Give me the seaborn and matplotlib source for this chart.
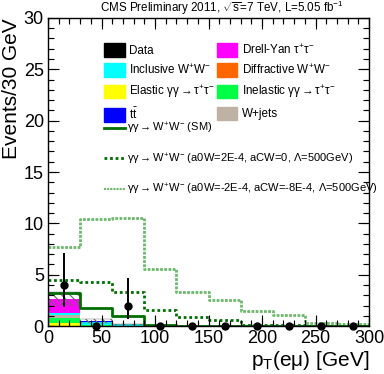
import numpy as np
import pandas as pd
import matplotlib
matplotlib.use("Agg")
import matplotlib.pyplot as plt
import seaborn as sns
from matplotlib.patches import Patch
from matplotlib.lines import Line2D
from matplotlib.ticker import MultipleLocator

# ROOT-like look, set by hand
plt.rcParams.update({
    'font.family': ['Liberation Sans', 'DejaVu Sans'],
    'mathtext.fontset': 'custom',
    'mathtext.rm': 'Liberation Sans',
    'mathtext.it': 'Liberation Sans:italic',
    'xtick.direction': 'in',
    'ytick.direction': 'in',
    'xtick.top': True,
    'ytick.right': True,
    'xtick.major.size': 8,
    'ytick.major.size': 8,
    'xtick.minor.size': 4,
    'ytick.minor.size': 4,
    'xtick.major.width': 0.8,
    'ytick.major.width': 0.8,
    'xtick.minor.width': 0.8,
    'ytick.minor.width': 0.8,
    'hatch.color': '#555555',
    'hatch.linewidth': 0.8,
})

# --------------------------
# Data (30 GeV bins, 0-300 GeV)
# --------------------------
edges = list(range(0, 301, 30))
centers = np.array(edges[:-1]) + 15

# stacked backgrounds, top of stack first (seaborn stacks the last level at bottom)
procs = ["Drell-Yan", "ttbar", "Inclusive WW", "Diffractive WW", "W+jets",
         "Inelastic tautau", "Elastic tautau"]
proc_colors = ["#ff00ff", "#0000ff", "#00ffff", "#ff6600", "#bfb2a5",
               "#00ff44", "#ffff00"]
dy = [1.40, 0.02, 0.01, 0, 0, 0, 0, 0, 0, 0]
ttbar = [0.03, 0.02, 0.01, 0, 0, 0, 0, 0, 0, 0]
incl_ww = [0.15, 0.33, 0.12, 0.04, 0.02, 0.01, 0.01, 0, 0, 0]
diff_ww = [0.05, 0.01, 0, 0, 0, 0, 0, 0, 0, 0]
wjets = [0.30, 0.03, 0.01, 0, 0, 0, 0, 0, 0, 0]
inel_tt = [0.45, 0.05, 0.02, 0.01, 0, 0, 0, 0, 0, 0]
el_tt = [0.30, 0.03, 0.01, 0, 0, 0, 0, 0, 0, 0]
bkg_err = [0.60, 0.17, 0.05, 0.02, 0.01, 0.01, 0, 0, 0, 0]

# signal curves (drawn on top of backgrounds)
sig_sm = [3.25, 1.80, 1.00, 0.07, 0.05, 0.03, 0.02, 0.01, 0.01, 0.01]
sig_aqgc1 = [4.50, 4.30, 3.30, 1.55, 0.90, 0.60, 0.10, 0.08, 0.06, 0.05]
sig_aqgc2 = [7.70, 10.40, 10.50, 5.60, 3.35, 2.50, 1.50, 1.05, 0.35, 0.22]

# observed data with Garwood intervals
data_n = [4, 0, 2, 0, 0, 0, 0, 0, 0, 0]
data_lo = [2.09, 0, 1.29, 0, 0, 0, 0, 0, 0, 0]
data_hi = [3.16, 0, 2.64, 0, 0, 0, 0, 0, 0, 0]

bkg = pd.DataFrame({
    "pt": np.tile(centers, len(procs)),
    "events": np.concatenate([dy, ttbar, incl_ww, diff_ww, wjets, inel_tt, el_tt]),
    "process": np.repeat(procs, len(centers)),
})
total = bkg.groupby("pt", sort=True)["events"].sum().values

# --------------------------
# Plot
# --------------------------
fig = plt.figure(figsize=(3.84, 3.74), dpi=100)
ax = fig.add_axes([0.125, 0.128, 0.836, 0.824])

sns.histplot(data=bkg, x="pt", weights="events", hue="process", hue_order=procs,
             palette=proc_colors, multiple="stack", bins=edges, element="bars",
             linewidth=0, alpha=1, legend=False, ax=ax)

# uncertainty band
ax.bar(centers, 2 * np.array(bkg_err), bottom=total - np.array(bkg_err), width=30,
       facecolor="none", hatch="\\\\\\\\", edgecolor="#666666", linewidth=0.3)

dark_green = "#006e00"
light_green = "#6cb86c"
sns.histplot(x=centers, weights=sig_aqgc2, bins=edges, element="step", fill=False,
             color=light_green, linewidth=2, linestyle=(0, (1, 0.5)), ax=ax)
sns.histplot(x=centers, weights=sig_aqgc1, bins=edges, element="step", fill=False,
             color=dark_green, linewidth=2, linestyle=(0, (1, 1)), ax=ax)
sns.histplot(x=centers, weights=sig_sm, bins=edges, element="step", fill=False,
             color=dark_green, linewidth=2, ax=ax)

ax.errorbar(centers, data_n, yerr=[data_lo, data_hi], fmt="o", color="black",
            markersize=5, elinewidth=1.4, capsize=0, zorder=10, clip_on=False)

ax.set_xlabel(r"p$_{\rm T}$(e$\mathrm{\mu}$) [GeV]", fontsize=15, loc="right", labelpad=1)
ax.set_ylabel("Events/30 GeV", fontsize=15, loc="top", labelpad=2)

fig.text(0.578, 0.978, r"CMS Preliminary 2011, $\sqrt{\rm s}$=7 TeV, L=5.05 fb$^{-1}$",
         ha="center", va="center", fontsize=8.4)

# legends
fill_handles = [
    Patch(facecolor="black", edgecolor="black"),
    Patch(facecolor="#00ffff", edgecolor="#00ffff"),
    Patch(facecolor="#ffff00", edgecolor="#ffff00"),
    Patch(facecolor="#0000ff", edgecolor="#0000ff"),
    Patch(facecolor="#ff00ff", edgecolor="#ff00ff"),
    Patch(facecolor="#ff6600", edgecolor="#ff6600"),
    Patch(facecolor="#00ff44", edgecolor="#00ff44"),
    Patch(facecolor="#bfb2a5", edgecolor="#bfb2a5"),
]
fill_labels = [
    "Data",
    r"Inclusive W$^{+}$W$^{-}$",
    r"Elastic $\mathrm{\gamma\gamma\rightarrow\tau^{+}\tau^{-}}$",
    r"t$\bar{\rm t}$",
    r"Drell-Yan $\mathrm{\tau^{+}\tau^{-}}$",
    r"Diffractive W$^{+}$W$^{-}$",
    r"Inelastic $\mathrm{\gamma\gamma\rightarrow\tau^{+}\tau^{-}}$",
    "W+jets",
]
leg1 = ax.legend(fill_handles, fill_labels, ncol=2, frameon=False, fontsize=8.4,
                 loc="upper left", bbox_to_anchor=(0.157, 0.938), borderpad=0,
                 handlelength=1.75, handleheight=1.4, handletextpad=0.4,
                 labelspacing=0.55, columnspacing=0.15)
ax.add_artist(leg1)

line_handles = [
    Line2D([], [], color=dark_green, lw=2),
    Line2D([], [], color=dark_green, lw=2, ls=(0, (1, 1))),
    Line2D([], [], color=light_green, lw=1.5, ls=(0, (1, 0.5))),
]
line_labels = [
    r"$\mathrm{\gamma\gamma\rightarrow}$W$^{+}$W$^{-}$ (SM)",
    r"$\mathrm{\gamma\gamma\rightarrow}$W$^{+}$W$^{-}$ (a0W=2E-4, aCW=0, $\Lambda$=500GeV)",
    r"$\mathrm{\gamma\gamma\rightarrow}$W$^{+}$W$^{-}$ (a0W=-2E-4, aCW=-8E-4, $\Lambda$=500GeV)",
]
ax.legend(line_handles, line_labels, frameon=False, fontsize=8.0,
          loc="upper left", bbox_to_anchor=(0.157, 0.685), borderpad=0,
          handlelength=1.85, handletextpad=0.2, labelspacing=1.4)

# axes styling
ax.set_xlim(0, 300)
ax.set_ylim(0, 30)
ax.xaxis.set_major_locator(MultipleLocator(50))
ax.xaxis.set_minor_locator(MultipleLocator(10))
ax.yaxis.set_major_locator(MultipleLocator(5))
ax.yaxis.set_minor_locator(MultipleLocator(1))
ax.tick_params(which="both", direction="in", bottom=True, top=True, left=True,
               right=True, labelsize=13, pad=3, color="black", width=0.8)
ax.tick_params(which="major", length=8)
ax.tick_params(which="minor", length=4)
ax.xaxis.set_zorder(20)
ax.yaxis.set_zorder(20)
for s in ax.spines.values():
    s.set_linewidth(1.0)
    s.set_edgecolor("black")

# tick marks also drawn as plain segments at the locator positions,
# on all four sides (inside the frame, ROOT style)
xmaj, xmin = ax.xaxis.get_majorticklocs(), ax.xaxis.get_minorticklocs()
ymaj, ymin = ax.yaxis.get_majorticklocs(), ax.yaxis.get_minorticklocs()
lx_maj, lx_min = 8 / 308, 4 / 308
ly_maj, ly_min = 8 / 321, 4 / 321
xt = ax.get_xaxis_transform()
yt = ax.get_yaxis_transform()
for locs, lx in ((xmaj, lx_maj), (xmin, lx_min)):
    ax.vlines(locs, 0, lx, transform=xt, color="black", lw=0.8, zorder=15)
    ax.vlines(locs, 1 - lx, 1, transform=xt, color="black", lw=0.8, zorder=15)
for locs, ly in ((ymaj, ly_maj), (ymin, ly_min)):
    ax.hlines(locs, 0, ly, transform=yt, color="black", lw=0.8, zorder=15)
    ax.hlines(locs, 1 - ly, 1, transform=yt, color="black", lw=0.8, zorder=15)
ax.set_xlim(0, 300)
ax.set_ylim(0, 30)

fig.savefig("out.png", dpi=100)
